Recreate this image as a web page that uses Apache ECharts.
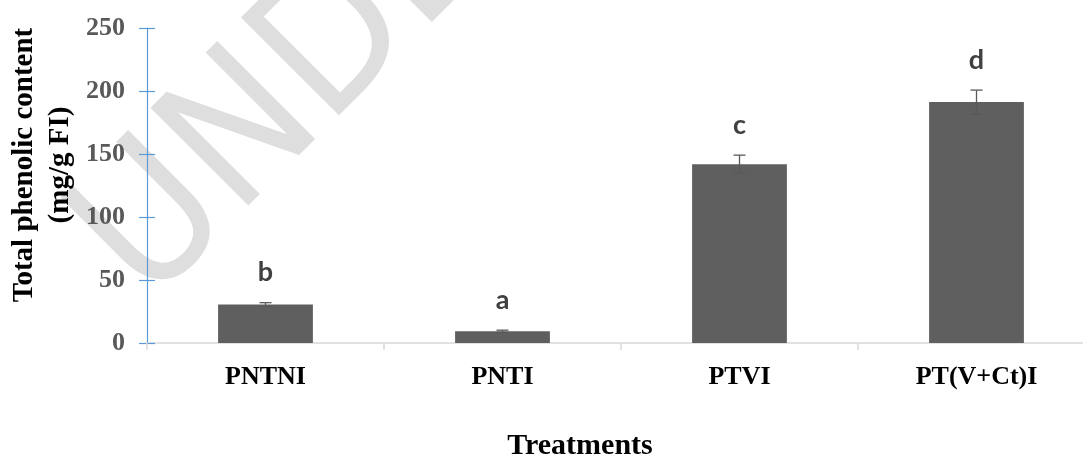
<!DOCTYPE html>
<html>
<head>
<meta charset="utf-8">
<script src="https://cdn.jsdelivr.net/npm/echarts@6/dist/echarts.min.js"></script>
<style>html,body{margin:0;padding:0;background:#fff}#c{width:1083px;height:456px}</style>
</head>
<body>
<div id="c"></div>
<script>
const categories = ['PNTNI', 'PNTI', 'PTVI', 'PT(V+Ct)I'];
const values = [30.5, 9.3, 141.9, 191.2];
const errors = [1.5, 0.9, 7.2, 9.5];
const letters = ['b', 'a', 'c', 'd'];
const yTicks = [0, 50, 100, 150, 200, 250];

const chart = echarts.init(document.getElementById('c'), null, {renderer: 'canvas'});
const serif = '"Liberation Serif", "Times New Roman", serif';
const sans = 'Lato, "Open Sans", sans-serif';

const errData = categories.map((c, i) => [i, values[i], errors[i], letters[i]]);

chart.setOption({
  animation: false,
  backgroundColor: '#fff',
  grid: {left: 147, width: 948, top: 28, bottom: 113, containLabel: false, outerBoundsMode: 'none'},
  graphic: [
    {type: 'text', z: 0, x: 46, y: 204, rotation: Math.PI / 4, silent: true,
     style: {text: 'UNDER PEER REVIEW', fontSize: 190, fontFamily: '"Liberation Sans Narrow", "DejaVu Sans Condensed", sans-serif', fontWeight: 'normal', fill: '#dedede'}},
    {type: 'text', z: 10, x: 25, y: 165, rotation: Math.PI / 2,
     style: {text: 'Total phenolic content', fontSize: 29, fontFamily: serif, fontWeight: 'bold', fill: '#000', align: 'center', verticalAlign: 'middle'}},
    {type: 'text', z: 10, x: 61, y: 165, rotation: Math.PI / 2,
     style: {text: '(mg/g FI)', fontSize: 29, fontFamily: serif, fontWeight: 'bold', fill: '#000', align: 'center', verticalAlign: 'middle'}},
    {type: 'text', z: 10, x: 580, y: 446,
     style: {text: 'Treatments', fontSize: 30, fontFamily: serif, fontWeight: 'bold', fill: '#000', align: 'center', verticalAlign: 'middle'}}
  ],
  xAxis: {
    type: 'category', data: categories,
    axisLine: {lineStyle: {color: '#d9d9d9', width: 1.5}},
    axisTick: {show: true, alignWithLabel: false, length: 7, lineStyle: {color: '#d9d9d9', width: 1.5}},
    axisLabel: {color: '#000', fontFamily: serif, fontWeight: 'bold', fontSize: 26, margin: 21}
  },
  yAxis: [{
    type: 'value', min: 0, max: 250, interval: 50,
    axisLine: {show: true, lineStyle: {color: '#5b9bd5', width: 1.2}},
    axisTick: {show: true, length: 8, lineStyle: {color: '#5b9bd5', width: 1.2}},
    axisLabel: {color: '#595959', fontFamily: serif, fontWeight: 'bold', fontSize: 26, margin: 22,
      formatter: v => yTicks.includes(v) ? String(v) : ''},
    splitLine: {show: false}
  }, {
    type: 'value', min: 0, max: 250, interval: 50, position: 'left',
    axisLine: {show: false},
    axisTick: {show: true, inside: true, length: 8, lineStyle: {color: '#5b9bd5', width: 1.2}},
    axisLabel: {show: false}, splitLine: {show: false}
  }],
  series: [{
    type: 'bar', data: values, barWidth: '40%',
    itemStyle: {color: '#5f5f5f'}
  }, {
    type: 'custom', data: errData, z: 5,
    renderItem: function (params, api) {
      const i = api.value(0), v = api.value(1), e = api.value(2);
      const top = api.coord([i, v + e]);
      const bot = api.coord([i, v - e]);
      const half = 6;
      return {type: 'group', children: [
        {type: 'line', shape: {x1: top[0], y1: top[1], x2: bot[0], y2: bot[1]}, style: {stroke: '#595959', lineWidth: 1.3}},
        {type: 'line', shape: {x1: top[0] - half, y1: top[1], x2: top[0] + half, y2: top[1]}, style: {stroke: '#595959', lineWidth: 1.3}},
        {type: 'line', shape: {x1: bot[0] - half, y1: bot[1], x2: bot[0] + half, y2: bot[1]}, style: {stroke: '#595959', lineWidth: 1.3}},
        {type: 'text', x: top[0], y: top[1] - 30,
         style: {text: letters[i], fontSize: 27, fontFamily: sans, fontWeight: 'bold', fill: '#404040', align: 'center', verticalAlign: 'middle'}}
      ]};
    }
  }]
});
</script>
</body>
</html>
